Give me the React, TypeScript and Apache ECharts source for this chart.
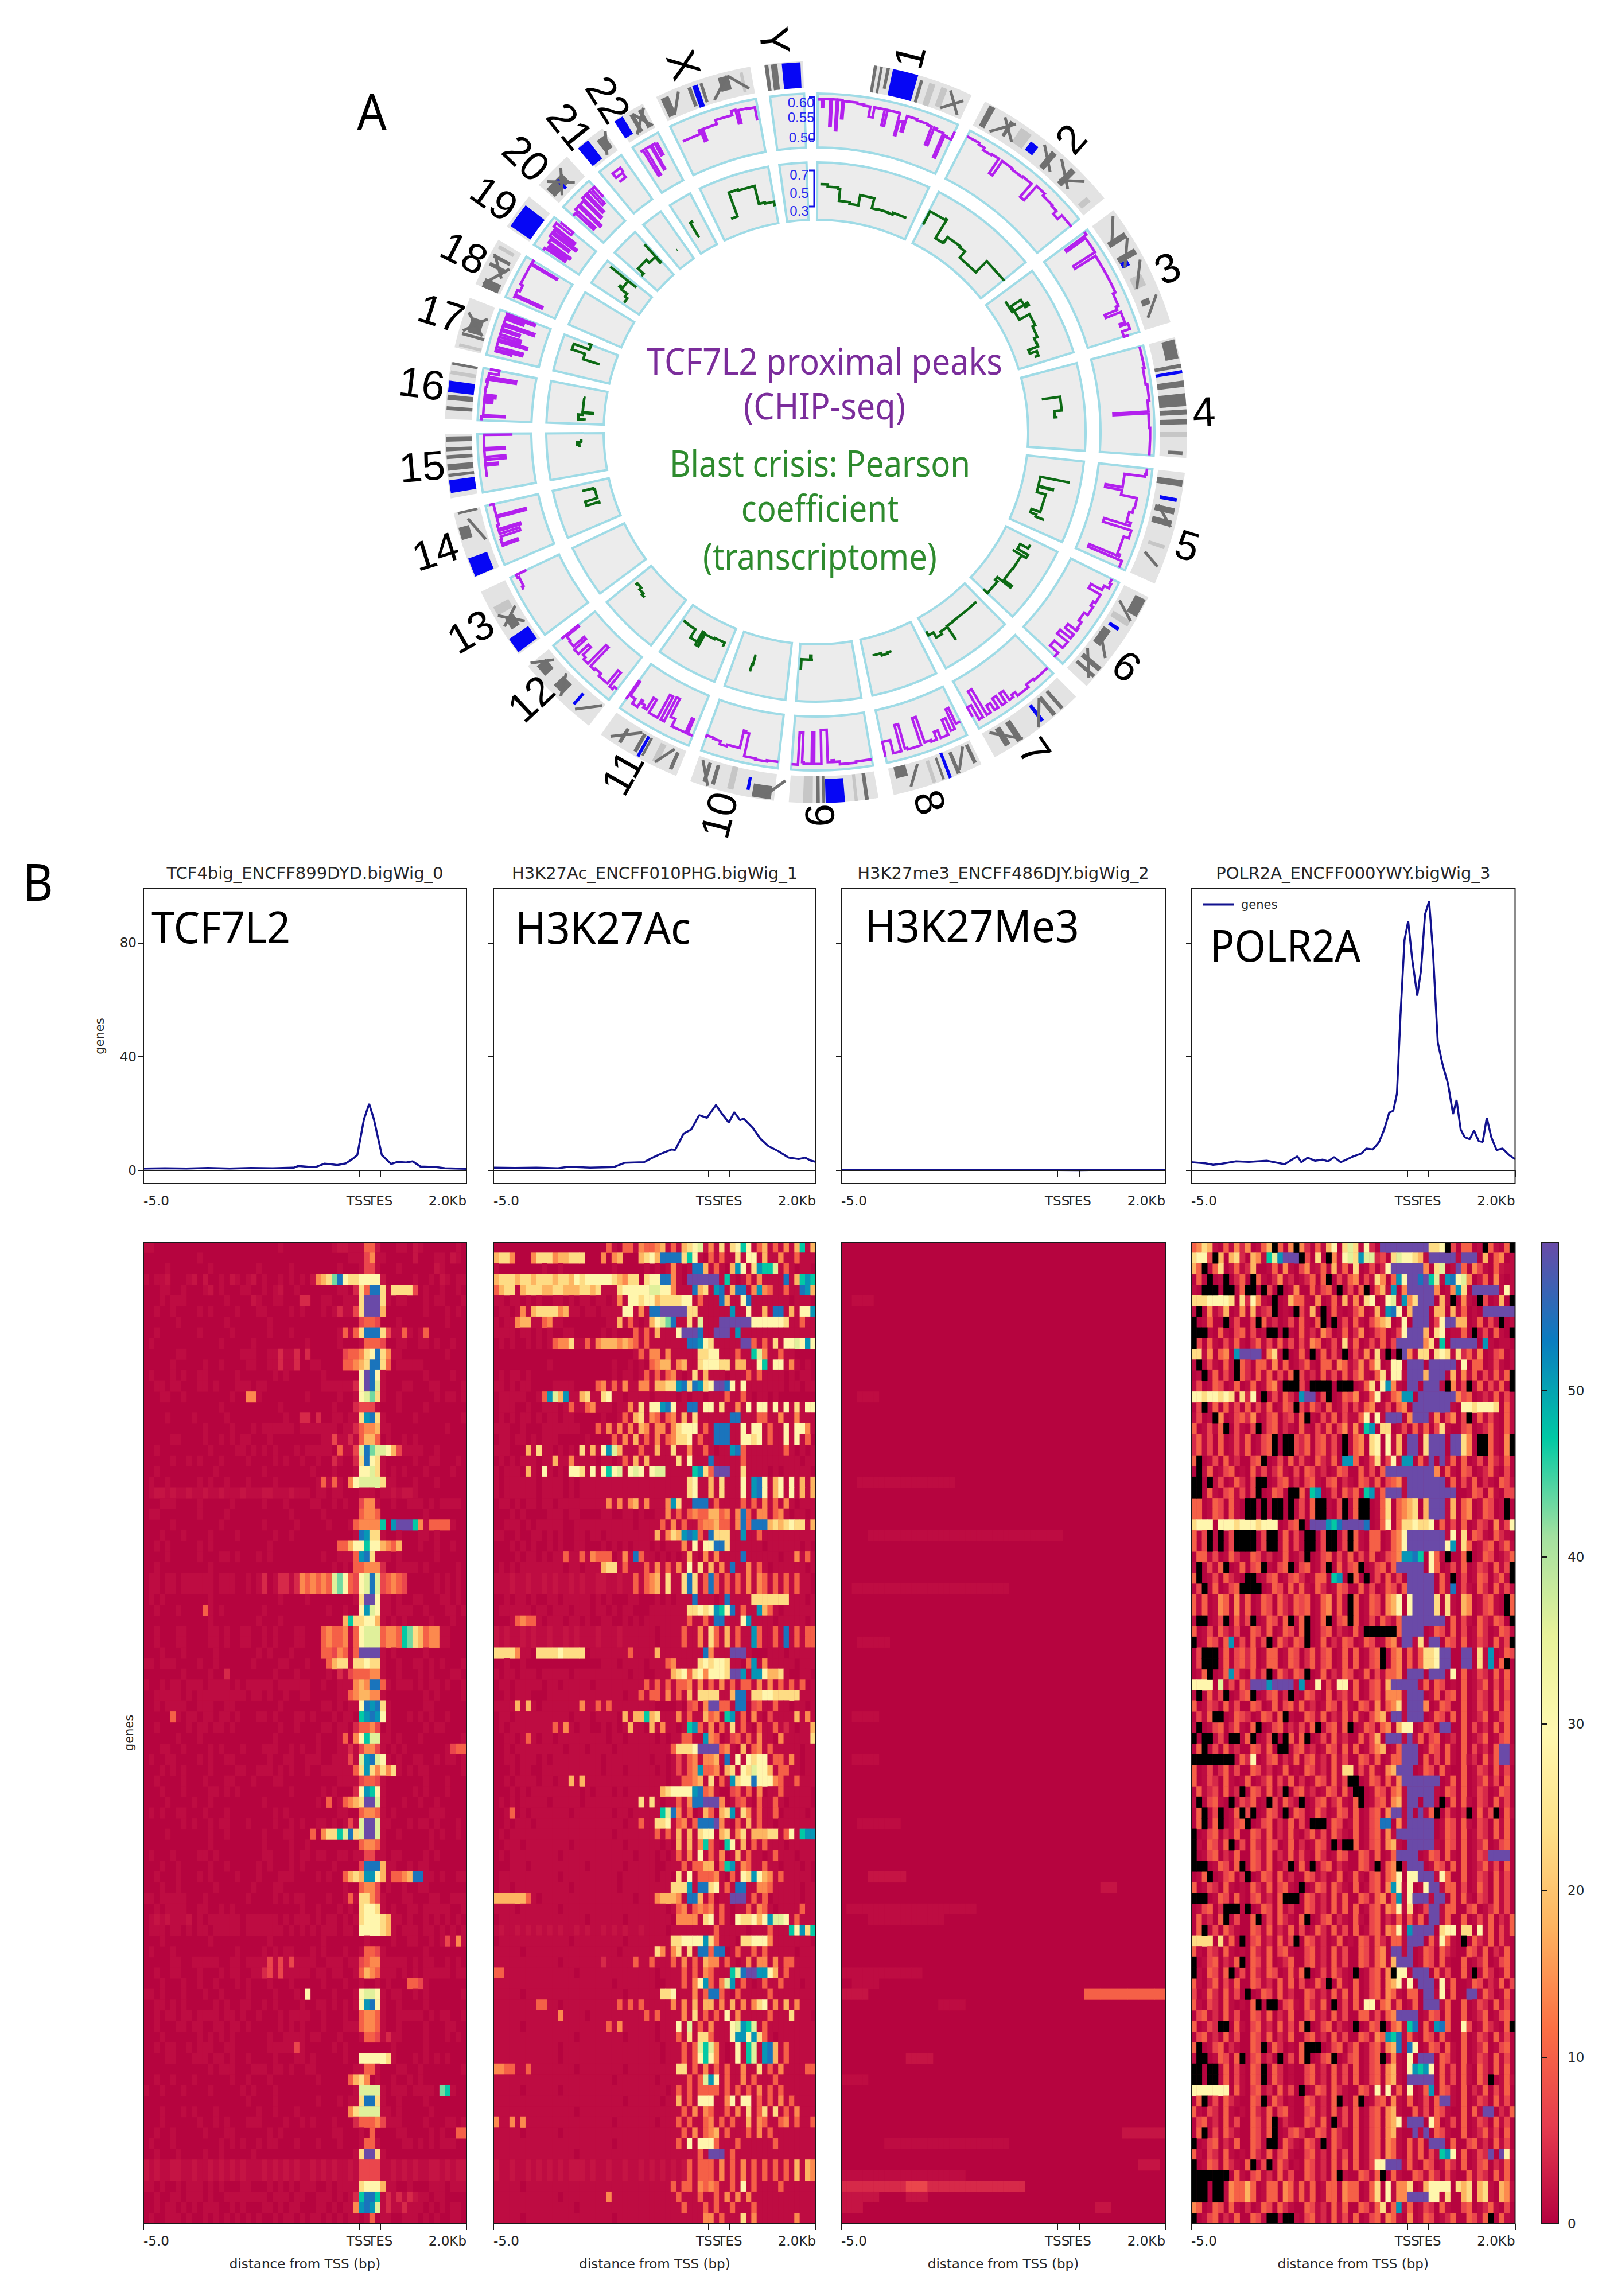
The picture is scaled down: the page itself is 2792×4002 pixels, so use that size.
import React, { useEffect, useRef } from "react";
import * as echarts from "echarts";

// ---------- panel B profile lines (x unit: 10 = TSS, 11 = TES, 15 = +2 kb) ----------
const TCF_X = [0,1,2,3,4,5,6,7,7.2,7.8,8,8.4,8.7,9,9.4,9.7,9.93,10.24,10.48,10.7,11.07,11.5,11.8,12.2,12.5,12.86,13.6,14,15];
const TCF_Y = [0.7,0.8,0.7,0.9,0.7,0.9,0.8,1,1.6,1.2,1.2,2.4,2.2,1.9,2.5,4,5.4,18,23.4,18,5.4,2.3,3,2.8,3.2,1.4,1.2,0.8,0.6];
const ACK_X = [0,1,2,3,3.5,4.5,5.6,6.1,7,7.4,7.8,8.3,8.45,8.85,9.2,9.57,9.93,10.35,10.64,10.95,11.2,11.47,11.64,12.07,12.4,12.78,13.25,13.73,14.2,14.5,14.75,15];
const ACK_Y = [1,0.9,1,0.8,1.3,1,1.2,2.7,2.9,4.5,5.9,7.4,7.2,13,14.4,19.4,18.5,23,19.8,16.8,20.5,17.7,18.2,14.9,11.3,8.6,6.8,4.5,4,4.5,3.5,3];
const ME3_X = [0,2,4,6,8,10,11,12,13,15];
const ME3_Y = [0.3,0.3,0.3,0.25,0.3,0.2,0.15,0.25,0.3,0.25];
const POL_X = [0,0.66,1.02,1.37,2.08,2.67,3.5,4.33,4.92,5.1,5.39,5.74,6.1,6.34,6.62,6.93,7.52,7.87,8.11,8.42,8.7,8.94,9.17,9.36,9.53,9.69,9.88,10.05,10.24,10.47,10.64,10.83,11.02,11.2,11.42,11.65,11.89,12.13,12.29,12.48,12.67,12.9,13.1,13.31,13.5,13.69,13.9,14.14,14.42,14.73,15];
const POL_Y = [2.9,2.5,2,2.3,3.2,3,3.4,2.2,5,2.9,4.5,3.4,3.8,3.2,4.7,2.9,5,5.9,7.7,7.4,10,14.4,20.3,21,27,54,81,87.6,74,61.4,70,90,94.6,76.6,45,37,30.6,19.8,24.8,14.4,11.7,11,14,10.4,10,18.5,11.7,7.2,7.7,5.4,4];

const PANEL_TITLES = ["TCF4big_ENCFF899DYD.bigWig_0","H3K27Ac_ENCFF010PHG.bigWig_1","H3K27me3_ENCFF486DJY.bigWig_2","POLR2A_ENCFF000YWY.bigWig_3"];
const XTICK_VALUES = [0,10,11,15];
const XTICK_LABELS = ["-5.0","TSS","TES","2.0Kb"];
const YTICK_VALUES = [0,40,80];
const CBAR_TICKS = [0,10,20,30,40,50];
const CBAR_MAX = 58.9;
const SPECTRAL = ["#b4003f","#e63c4e","#fb7044","#fdb25f","#fee088","#fff8b0","#e8f29a","#a3e0a0","#00c9a4","#0a7cc0","#6a4aa8"];

// heat levels: one character per cell (x = no data, drawn black); rows are six groups of ten columns
const LEVELS: Record<string, number> = { ".":0.5, ":":1.2, ",":2, "1":4, "2":7, "3":10, "4":14, "5":18, "6":23, "7":29, "8":36, "9":43, g:47, t:51, b:54, p:59 };

const HEAT_TCF = [
"::........ .......... .....:.... .....:,,:: :33,...::. ,:......:.",
".......... :......... .......... ........:: :24::..... ,...::.,:.",
"....:..... ..:....... .:.....:.. ......:... :22:...:.. ....,:....",
":.::,...:, .,..:.,:.: ,.:..:.:.: .,4569b766 7777,..... :..:.,:.::",
"...::..:.. .:,.:...:: ..:.:,..:. ......::.1 63bb6:6666 2.:..:..:.",
"...:.:::.. .....:.... ,:..::...1 1..::..::: 6ppp6:.::. ..:.::...:",
"..:..:.... :.:....:.. .::....:.: ...:.:1::2 6ppp5..... ..:...:.:.",
"......:... .....:.... ...:...... .......... 2332...:.. ......:...",
"..:....... :.....:... ...:...:.. ......:3:3 6bbb62::3: .:3.......",
".:........ ....:..... :......... :.....:... :3332..::. .::.:..:..",
"......::.. ........:: :..::1::1. 1......233 467b64::.. ......:...",
".....:.... .:..:....: :..::1::1. .::....334 56bb63.::: ::........",
".:...:.:.. ::.....:.. ....:.:... ...:...... 7pb7:..... ..:....:..",
"..::.::... ::.:...::: .::....... ...::::::1 7pb8:...:: ...::....:",
"...::..:.. ......:..4 4:........ :.....:..: 7896:..:.. ....:.::.:",
".......... ....:..... .....:.... .....:...1 222:...:.. ..:.......",
"....:....: .....:.... ......:..1 1.1..::.:: 6tb6:..... :........:",
".......... .:....:... :.::::::.: ::::::.::1 3445::.... ......:...",
".....::... .:..:.:.:: ...:...... ...::2::1: 3553.:..:. :.........",
"..:....... ..:....::. :.:.:...:. :::::.3::2 8b988752:: ::..:.....",
".....:..:. :...:....: ....:.:..: ..:..1:..1 6b76:..... :..::...:.",
"..:....... ...:...... ..:....... .:...:...: 7786:.:.:. ..:....:..",
".:..:..... :.:..:...: ....:..... ..:3:3:.47 88886::... :...:.....",
".:,,:,::,: :,::,:::,: ::,,:::,:: :.::.::... :::.::,:,, :.........",
"...:::.... :.....:... ..:...:... .::..:.:.. 244:..:..: ::.:.::::.",
".::....... :....:.... .......:.. ...:...... 3443...... ..:.......",
".....:.... ....:..... ..:.....:. ....:...:3 4444g.tppp g4:3333:..",
"...:...:.. ..:....:.. ....:..:.. .........: bt66:..:.. .::.:.....",
"..:.:..... :.:....... ...:...... ......3357 7g775435.. .:..:..:..",
"....:..... :...::.:.. .:.:...... ...:..:::3 tb6:::.:.. ....:.....",
"..:....... ..:....... .......... .....:.:.3 34441..::: :.:.....:.",
".::.::.::: :::.:::..: .:1.:11:14 3434389732 78b823432. ....:.:.:.",
".::.::.::: :::.:::..: .:1.:11:14 3434389732 78b823432. ....:.:.:.",
".:.:...... ..:....... .....:.... :........: 6pp7::.:.. ::...::.:.",
"..:...:... .3:.:..... ..:....... ....:..:.. 7t87::.::: ..:...::.:",
".......... ..:....... .:...:.... .......5g6 6775:.:.:. ...:...:..",
"..:...::.. ..::.:..:: ..:.:...:: ...34334:3 78883443g9 65344::...",
"..:...::.. ..::.:..:: ..:.:...:: ...34334:3 78883443g9 65344::...",
"...:...:.. ...:...... .:.:...:.. ...33243:3 pppp:.:... ..:.......",
"::.:::.... :..:...... :....::... :...3566:6 6766:..:.. ::.:.:...:",
".......:.. ..:..1.... ....:...:. ....:.1:23 3344:..:.. .:.:...::.",
":..:.::.:: :.::::.:.: ::::.::::: :..:..:::4 54bb3:.::: .:.::.:..:",
"..:::::.:. :::::::::. ::.:..:..: :.....::34 5544:..... ..:.:....:",
"..:.::::.. :::..::... .....:.... ...::.:.:: 7btb6:.... ..::......",
".....3:.:: .::.::.:.. .::.:...:: .:...:.::. gtbt7:...: .:.:..:...",
"..:.....:. ::.::.:... .....:..:. ...::.::.1 3342.:.... ..:.::....",
"......:... :......... ....:..... ..:...:3.4 7g88::.:.. .:.......:",
"...::..:.. ..:.:...:. ..:::..:.: ..:...::1: 2442:.:.:. ......:233",
".:..::.... :.:..::... ...:..::.. :::..:::2: 8tb87:.:.. ::..:.::.:",
"...:.:.:.. ..:....::. .:::.:.:.. :..::::::3 6t64646:.: .::......:",
"..:....:.. .:...::... :...::.... ......:::: 2332:..... ..:...:...",
"...:...:.. ..::.:.:.. .......:.. ...:.:...1 7tg7:.... :.:...:...",
"....:....: ..:....... ..:....... ..:.3.:345 6pp8:...:. .:..:.....",
".:.:..::.. .:...:.... ....:.:... ......::.. 3443:.:... ...:::....",
".......:.: ..:.::...: ....:..:.: ..::.:.:2: 8pp8::...: .::.:...:.",
"....:..... ..:..:.... ..:...::.. .3.466g8b6 8pp8:..:.. ...:.:..:.",
".......... ..:....... ..:....:.. :......... 3443:..... ...:......",
".:...:.... ::.:...... ..::...:.: :.::..::.: :22::.::.. ..:.:.....",
"...:..:... ..:..:.... .:.:...:.: .....:.... 2bbb5::..: .::.......",
"..:...:... :.:....:.. .:...:::.. ..:.:..356 5tt75:3345 bb::.:..::",
"...:..:... ...:...... :...::.... .......:.. 3442.:..:. .::.......",
"::.:::::.. .:.......: ....:.:.:: ....:..:3: 6642:...:: ...::..:::",
"..:.::::.. ::..:.:... .........: ..:...:.:. 6776:.:..: :.:::::..:",
".:,:,:::,. :.::::::.: :::::.:.:: :.:.::.:.: 677765::.: ..:.:.:.:.",
".:::.::.:. ::.:::::.: ::::::.:.: .:.:::.::. 777765:.:: :.::.:.:.:",
"...:...... ..:....... ...:...... ...:...... .:....:..: :..:.:2:4:",
".:...:.... .......:.. ..:.:.::.. .:.:...:.. :332:..... ..:.......",
".....::..: ::::..::.: :::2:2:2:: ::..:::.:: 2344::::: :.::..:.:.",
"..:..::... :...:.::.. ::12:2:::: :.::.::..: 3543:::.:. :.:::::.::",
"...:...:.. :..:...:.: ...:...:.. ...:...:.. :..:.:...3 32:.......",
"::.:...:.. .:..:....: ....:...:. 7....:...: 7887:.::.. :.:......:",
"..::.:.:.. ...:.:..:: ..:.:....: ..::.:.:.: 7tb7:..:.. ..:.......",
"..:.::.::. ::::.::.:. .:...:.::: :..:...:.. 3443:..::: ::.:.::..:",
"..:...::.: :..::.::.: .....:.:.: ...:...::: 3443:..:.. ..:...::..",
"...:...... :.:.:.:... ...:..:::: .::...:... :332:1::.. ..:...:.:.",
"..:.::..:. :::..::... ...:::::2: .....:.:.. ......:... ..:......",
"....::...: ::.::.:..: ....:...:: .:.....:.. 777776:... :.:.:.:...",
".......... ..:.:::... :::.::.:.. ::.......: :33:...::. .:.......:",
"..:..:...: ......:..: ...:...... ..:.....35 64.:..:..: .:........",
":..:...:.. ..:.....:. :...:..... .........: 8888:.::: ::::.9g:..",
".......... .........: ....:..... ..:...:.:: 6bb6:..:.. ..:.......",
"...:...:.: ...:...... .:..:...:. ........46 8888::.:.. ...:......",
"...:...... :..:.:...: ::....:..: .:...:...1 33342:::.. ..:...::.:",
"..:..:.... .:...::... ...:.:.... .....::... :.3....::. ...:.:..33",
".:...:.... ....:.:.:. .:.::...:. ..:...:... :33:....:: .:.:.:::..",
"..:...:... .:..:..... :......... .........: 6pp6:..... ..........",
",:,::,,::, ::,:,:,:,: ::,:,:,:,: :,:,:,::,: 2222::,:,: ,::,,:,:,,",
",:,::,,::, ::,:,:,:,: ::,:,:,:,: :,:,:,::,: 2222::,:,: ,::,,:,:,,",
"::.:..:.:: :.:.:...:: ...:.:.:.: ::..:.:::: 67775::..: ...:::.:::",
"..:..::.:: :.:..::::: :::.:::.:: ..:::.:.:1 gbbg:1:1:1 ,::.::...",
"..:.::.:.: .:::..:.:. ..::.:.::. ..::.:.::4 tbt8:1::1: ::.:.:.::.",
".:..:::.:. .:.:.:.:.: .:..:.::.: .::.:.:.:: .:3.::..:: :.:.:..::.",
"..:.:.:::. :..:.::... :.:..::... ....:..:43 4453:.::.. ..:.:.:...",
];

const HEAT_ACK = [
".......... .......... .3:.33:433 45:3:5678, 4:6:67g7:3 5:3:4:5g:5",
"5664...466 6455666... 4.45...567 5bbbb6g7:. 3:3::6:77: 5::4::3:::",
":........: ..:....... ..:.....:. :.:4:.:bb5 :3:.5t7:6t gg8:3:.::.",
"5666566566 6566576777 7765466.67 7bb4:.pppp pp:g:.:3:4 ::::b:5gtg",
"3566:56665 5665556656 :::6777778 8774:::b56 :tb:5bb:4t 43::3::bt5",
"::.::.:.:. .::.:.::.: :.:4:77677 5666677:3: ::b5::7b:: :::::.:::.",
".::.:4:566 6645::.::. ::::77:4:b bppppp66:: ::::t::7:: 5:bb:5:77t",
":.::455::3 4::....... .::5:3:.:5 789b::6:8: ::pppppp77 77776::3::",
"::::.::.:. :..::..... :.:...3:3: 5:::7pppb: :ppp:t:::: ::::::::::",
".:.:..:.:. :3446::3:4 5554543:3: ::::::bbt7 6:::::pp3: 3:6:7787t7",
".......... .......... ......:3:4 4:4:::::66 77:::3::g8 4::3::....",
".......... :......... ..:..:.:.3 455:45::67 7766:55::7 g:77:4:.:.",
".:.::.:... .......... ..:.::.:3: 3:34:.:6:5 :::.:::3:3 ::::.:.::.",
"::.:.::... .::::....3 4:3:4::44: 5566tb6bt6 7ppb7:7::: ::::.::.::",
".:::::..:3 t85t::56:: 67::.::::. ::::.:.::. :::3::3:.: :.:.......",
".:::..:..: ::.:3::34: ::.::4:6:7 7tb7::bb:7 7:6::4:7:7 7:7:7:6:77",
".:.:.::.:. ::.::..... :..:3:56:4 3:34:5:6:: ::::bb:::3 3::4::4:::",
":::..:...: ::::::...3 :4:4:4:54: 44:46777:3 :bbb::7:77 :3::7:774:",
".::.::.:.: ::.....:.. ..3:4:5:3: 4:34667:3: :bbb::7767 :3::7:7:3.",
":::...5:6: :.:.:.6:5: 7t85:::3:: 5::6::4::3 :.::tb3::: ::::3:.:.:",
".:.:.:::.: :5::4::::. ::.:3:5:5: ::::6:7::: b:::::3::: :::::::.::",
":.:::.5:.7 :.:.776:7: 7g78:787:7 88:::::gt6 3ppp::6::: :.:.:::::.",
":.::::::.: :::.:.:::: :::::::::: ::::::67:: 5:6:::7:tb 7:57:7:5:5",
":.::::::.: :::.:.:::: :::::::::: ::::::67:: 5:6:::7:tb 7:57:7:5:5",
".::.:.::.: :.:::::::: :4:4:45:4: ::4t6::bbb :3::::3:3: 4:3:4:.:::",
"...:.:.... :::.::.... ::..::.:.. ::4:3:3433 5534:4b3:4 4:34:.::.:",
"..:::.:.:: :::..::::: ::::::.::: :3:4:3::34 4533:4b3bb b5656766:5",
"::..:..::. :.:..::.:: .::::::::: 5:465tbt3: b666::t::3 ::::::::::",
"...:.:.:.. :.:..::... :.:.:.:::. :.:::4:7:7 7bb6:::::: .::::::.:.",
"....:.::.: .::3::3:43 33.:4:b3:: .:.:.:5:.4 :4::::b::: :::.::4:3:",
".:.:.::::: :::.::.::: 566:3:::3: 4:3:4:7:6: 5:4:b::4:3 :.::::::.:",
":::,::,::, :,::,:,::, ,::,::3:34 5:6::6b6:3 b3:3:3:4:4 3:3:3:3::.",
":::,::,::, :,::,:,::, ,::,::3:34 5:6::6b6:3 b3:3:3:4:4 3:3:3:3::.",
"..:.::.:.. ::.:::::.: .:...::... :.:.:::b:: :.:b::::66 66666:::.:",
".::::::.:: .:::.:::.: :.:.::...: ::::::6676 7tg7b:3::t 53:.::::::",
"...:3433:. :::.::.:.. ::..:.:.:: ::::::3::3 :bb:::7t:: ::.:::::.:",
",:,::,:,:: ,::,:,:::, :::,:::::: .::::3::4: 63:5:3::t3 ::3:b:3:33",
",:,::,:,:: ,::,:,:::, :::,:::::: .::::3::4: 63:5:3::t3 ::3:b:3:33",
"66664::.66 6676666.:: :::::3:::: 5::::::::b 4:::ppp:.. .:::.:::::",
"..:..:.... .......... :::.::::.: ::34::::67 6776::.3t: 4:::::.:::",
":.::.:::.: ::::.::::: :::::.::.. :::5673674 7776ppt:tt 7556:..::.",
".::.:::::. ::.:::::.: ::::::::3: 3:3:334:4: 3:4:3:33:4 :4:3:3:3.:",
"..:.:::... :::::::::: ::::.::3:3 3:4:3:5:66 66::5bb:66 7766666:::",
"::::5:5:.: ::::::4::3 :3:::::::: ....:.23.4 pp33:bb.23 ::3::.::.:",
".::.:::::: ::::.:::.: :::.5:55g5 6:::4:3::5 34.gt:3.4: .2::::5:4:",
".:.::::::: :3:4:.::.. :.:.:5::.5 :4::.:gt3: 4.3:6:3:.3 ::3:1:.::5",
"..::.:3:.: :.:::::::: :.::.::::: .:.::33::t 43.:23:3:4 ::.4:::::6",
"..:.:::::: :::.:::.:: ::.::::::: :::36667pp pp34:.5.34 :3:::::.::",
"..::.:::.: .::::::::: .::::::::. ::.:2:34:4 45:b:7:767 7:33:4:.::",
"...:.::..: :::::::::: .:::.::::: .:.:2:34t3 34.56:7687 75:33::.::",
"..:.::::.: :.::5:5::: :::::::::: ::.::3345: 6.3:t677b7 7743::3:::",
"...:.:.::: ::::::.:.: ::.:.::::: :567777tb3 4:..23:3.4 .::3:::::.",
".:.:.::::: .:::::.::: :::::::6:6 :.::3:4bbp pp4.:23:.3 ::3:.::::.",
"..:3.:.::: ::::.::::: ::.::.:::: :g8b4:3.:5 3.56t:64:3 ::3.::::.:",
"..:.:::.:: :::::::::: ::::.::3:: 667:34:3bb bp4:.3:5:3 ::.:::::::",
".:.::::::: :::::::::: ::.::::::: 3:3:5:5:67 7.56:46:55 566:37:gtt",
"..:::.:::: ::::.::::: ::::.::::: :.:.5:5:4g 3:.g7:5.3: 3:::.:::::",
".:.::::::: ::.::::::: ::::::.::: .:.:3:4:7: 3:4.:5:3:: .:3:::.:::",
"...:::.::: :::::::.:: ::::.::::: ..:::3:335 5.3gt:43:: 3::.:::.:.",
".::::::::: ::.::::::: :::.:::::: .::.6:7:33 34:.3:76t7 54:3:::::.",
".::.:::::: ::::.::::: :::.:::::: :::666t:bb 67:3:bb::4 43:::::.::",
"5555553:.: :::::::::: ::::::.::: 45554:bb5: 3.::ppp:3: 3.:::::.::",
"::::.::::: ::.::::::: :::::::::: ::.:34:343 4:3:.::3:4 3:.::::3::",
".::::::::: :::::::.:: ::::.::::: :::.4444:6 7:3:.76675 7t887:3:::",
":,::,:,:,: ,:,::,:,:: ,:,:,::,:: ::.::::::: :3:::::.:: :3:::g7t6g",
".::::::::: ::::.::::: ::::.::::: :::667777t 63:::.6677 74:::::::",
":::::.:::: :::::::::: :::.:::::: 64:46:6:bb 3bb.:3::3: 3:::::.:::",
":::::::::: ::.::::::: 1:::::3::3 :::3:4:3:5 44:3:.:4:4 4:4:33::::",
"33:::::::: :::::.:::: :::::::::: .::::3:3:4 3:::g8bppt t75:3:::::",
":::::::::: :::::::::: ::.::::::: ..:::3:47t 3:48t:3:.: 3::3:::.::",
":::::.:::: :::::::::: ::::.::::: :667:::4:3 bb3:.3:::: :3::::::::",
"::::::::33 ::.::::::: :::3:3:3:: :::4:4:5:5 5:4:5:4:46 7:4:5:4:::",
":::::::::: ::4::::.:: ::::::::3: 3::::4:6:3 :3:7:4:::: :3:::6:::",
":::::.:::: :::::::::: :3:4:::::: .:::7:8:3: 4:::78tg8: 3:::::::::",
":::::::::: :::::.:::: ::::.::::: .:::3:6:66 3:::7tt7t6 3:.:::::::",
":::::::::: ::.::::::: :::::::::: :.:::3:38g 84:.:7:g8: tb5:3:::::",
":::::::::: ::.::::::: :::::::::: :.:::3:37g 74:.:7:g8: tb5:3:::::",
"4433::3::: :::::.:::: ::::.::::: ::::66:3:4 :3:3::4::6 :3:4::::33",
":::::::::: :::::::::: ::.::::::: .:::::3:38 t7:3::4:3: ::3:::::::",
":::::.:::: ::.::::::: :::::::::: ::.:3:3:33 33:3:3:3:4 :3:3::::::",
":::::::::: :::::::::: ::::.::::: :.::5:3:77 7::47:77:3 :3:4:3::::",
":::::::::: :::::.:::: :::::::::: :::::3:4:4 3::3:4:6:3 6:6:3:4:::",
"4::4:4:::: :::::::::: ::.::::::: .:::3:3::3 4:3:3::5:4 3::34:3::3",
":::::.:::: ::.::::::: :::::::::: :::::3:4:3 45:3:::3:4 :3::::::::",
":::::::::: :::::::::: ::.::::::: ::::3:7:77 73:::3:::: ::3:::::::",
":::::::::: :::::.:::: :::::::::: ::::::::3: ppp:3::::: ::::::::::",
",::,::,:,: ,:,:,,,:,: :,::,::,:, :,:,:,3:33 3:4:3:4:3: 3:3:3:5:54",
",::,::,:,: ,:,:,,,:,: :,::,::,:, :,:,:,3:33 3:4:3:4:3: 3:3:3:5:54",
":::::.:::: :::::::::: :::::::::: :::3:33:43 43::3:7:3: :::3::::::",
":::::::::: ::.::::::: :4:::::::: ::::3:::3: :3:4:4:4:: ::::::::::",
":::::::::: :::::.:::: :::::::::: :::::3:::3 :3::3:::3: ::::::::::",
":::::.:::: :::::::::: ::.::::::: :::::::::4 4:3:::6:4: ::::::4:::",
":::::::::: ::::.::::: :::::::::: .:::::3::: :3:3:::::: :::3::::::",
];

// [band, first column, last column, level]
const HEAT_ME3_RUNS: [number, number, number, string][] = [
  [5,2,5,":"],[14,3,6,":"],[22,3,20,":"],[27,5,40,":"],[32,2,30,":"],[37,3,8,":"],[44,2,6,":"],[48,2,6,":"],[54,3,10,":"],
  [59,5,11,","],[60,48,50,","],[62,1,24,":"],[63,5,18,":"],[68,0,14,":"],[69,2,6,":"],[70,0,4,","],[70,45,59,"3"],[71,18,22,":"],
  [76,12,16,","],[78,0,4,":"],[83,52,59,","],[84,8,30,":"],[86,55,58,","],[87,0,22,":"],[88,0,12,"1"],[88,12,16,"2"],[88,16,33,"1"],
  [89,0,6,","],[89,12,15,","],[90,0,3,","],[90,47,49,","],
];

const HEAT_POL = [
"3465:.3:41 4.:35x3.4x 41.3:57.68 6:71.ppppp5 pppp667x2. 33.:x3:.3x",
"6772x5.561 .54:g8tppp x2.6.x4:78 6t8812.687 765:ppppp: ppp.5.34.:",
"53x:36.,3: 15..:3.4:. 24:,3.5:3. 6.:2.17ppp ppp4.68.:p 3.42:.3,::",
".3:x.:x.13 .x3:.14:1. :13.3x.2:3 4.2:64.3t7 ppbpg8:tb7 84.,3.4:.:",
":.xxx.xx:3 xx.x2.x.:4 ..3:23.x:2 .3x.35:t.4 ppppp4.:4t 6.ppppp:7:",
"66677776.6 174:.x.:53 3:.4.:3.5: 4.67.:78:t 46ppp.5:x. 4:.x2.:5.x",
":x.4:15.:4 .5:12x.:.x 2:5.x.3:.: 24.:5:tb7. 5ppp.55.5: 3.:.pppppp",
"x.:3..x:2. .2x3:1.:2. 3:.3x.x:2. 3:.2456.:7 .ppp.27pp5 5.:3.2:x.:",
"xxx:.3:.23 .2.:xx.x:. 3:1.42.:3. 14.:23.:27 ppp5.67.:: 3.x:2.3:.x",
"x2.3:.2:3: .13:2.3:2. 2:43.:2.6: 3.:2:3.2pp ppp46.g.pp ppp.t:.::.",
"66:4.34.tp ppp.46:x.: 3.x:3.2:x. 2:4.6:x.xp 4:66.676:6 13:4.:23.:",
":x.2:.3:x3 1.33:4.3.: 13:.33.43: 14:36.:77. ppp.ppppp 7.33.:2:.:",
".:x:3.2:x3 1.3:3.2.3x 2:1.3:2.3: 24:.36.77: ppp5ppp.5 4:3.2:3:3x",
":2.:32.:3. :3.:34:xxx 2.xxxx.xxx .:36.7t4:. pp.ppp:x4 2x:3.2:3.x",
"77677676.6 17.x:2.31. tpp.2x.:32 4.:37.:34t t.ppppppp4 23.:1:3.2:",
".2x:3.3:2. 3.2:3.:32x 2:31.3.:2. 2:34.:2.34 .ppppppp: 7767776.3:",
":2.:x4.:23 14.:23.12. 3x:.2:3.2: :37.7:ppp. 4ppp:4.24 2x.3:2:.3:",
"3.:2:3x.2: .2x:23.1:. 3:.2:3.24: 4:gt.66.:2 .3:3.26:. 23.:13:.3:",
"13:2.3.:2: 3.:23x.xx2 13.23:2.x: 34.67.7:5. pp.6ppp.pp 64.xx3:.4x",
"13:2.3.:2: 3.:23x.xx2 13.23:2.x: 34.67.7:5. pp.6ppp.pp 64.xx3:.4x",
"3x.:2.3:1. .23x.:2.3: 2:.31:3.tt 3.:26.27:t t.3:p.p:3 3.:2.31:3.",
".x:3.:23.: .3:2.13:.2 .32:1.:32. .3:2.3pppp ppppp4.3: 32.:13:.2.",
"xx.x:2.:31 .2xx.:23.1 .23:.23.1: .32:3.234: ppppppp.3 2:3.1:.32:",
"xx.3:.23:2 .2x.:32.xx 3.gt.:2.31 3.gt:3ppp: ppppppppp .:32.3:.22",
"33.:32.3:. xx.x:xx.x: 2.3xx:.2x: 3xx.:36.34 56.5ppp:5 34.:32.:x.",
"33.:32.3:. xx.x:xx.x: 2.3xx:.2x: 3xx.:36.34 56.5ppp:5 34.:32.:x.",
"6777.77767 776777.:23 x.ppptgbpp ppb.:37.36 67667.3:2 3.:21.4:27",
"3.2x:x.2xx xx.2xx:3.2 :xx.2xx:2x 3:.33.:347 ppppppp:7 6.32:.31:.",
"3.2x:x.2xx xx.2xx:3.2 :xx.2xx:2x 3:.33.:347 ppppppp7t 63.:23.13:",
".33:2.:31. .32:1.:3.: 1x.:23.2:3 .2:3.:234t tbg.73:x. 3x.:32.:13",
":x.2:3x.:3 .23x:.23x. 23.:2x.3:2 3x.:23.3pp ppp.73.:2 3.:21.3:2x",
"3x.:2.31:. xx.:23.:23 1.:33.gt.x 3.x:2.3:2. ppppp.3:x 2.:32.13:x",
".2x:3.:23x xxx.:32.3: 3:.31.:32. .3:2.:32.3 ppppp.3:b 2:.31.3:2:",
"3:3.:43.4: 3.:32.31:3 23.:34.3:x 3.:32.457. 7pppp6.6: 54.:23:.x3",
"3:3.:43.4: 3.:32.31:3 23.:34.3:x 3.:32.457. 7pppp6.6: 54.:23:.x3",
":xx.:2x.3: 2x.:32.3x: 3x.:3x.23x 3.:2.31:3p ppppppp.3 2:.31:32.x",
"3.:2.31:2. .32:3.:32. 3x.:23.1:. 3:xxxxxx3p ppp.:32.3 2.:31.:32:",
"x.:32.3t:2 .3:2x.31:3 2x.:3.1:32 .:32.:34.p p:6.pp.32 3.:21.3:2x",
".2xxx:3.23 13.:33.:32 .13:23.:3. 3.:23x.34. 3:3667pp pp.6:t.:32.",
".2xxx:3.23 13.:33.:32 .13:23.:3. 3.:23x.34. 3:3667pp pp.6:t.3x.:",
".:3x.:3t2: .3:2x.31:3 2x.:3.1:32 .:3.2:334. ppp.ppp.7 3.:21.3:3.",
"7777.8:2.3 1ppptpppp: t.:7.2:77. 3.:23.5ppp pp:3.32.: 3.:13.2:3.",
":x.3:2x.:2 3x.:23.1x: .32:.3.12: 3.:23.444: ppp.:3.23 3.:21.3:2.",
"3.:21.3:2. .32.:3.23: 3:1.:32.3: .32:4.346: ppp4.:32. 3.:21.3:3.",
".2:3xx.:32 1.:32.3x:. .32:3.1:3. 3:.245.pp: ppp.:32.3 3.:13.:23.",
":x.:23.13: .3x.:23.1: 2.3x:23.3x .:32.34.57 7.:32.pp. 3.2:1.3:3.",
"x.xx:2.xx: 3x.:2x.x3. 3x.:2.3:1. .3:25.ppp: p:3.23.:1 3.:13.:23.",
".3x:2.3:1. .32:3.xx:2 3:1.:32.3. 3.:245.:3p pp.:32.3: 3.2:1.3pp:",
"xxxxxxxx:3 17.:23.1:3 .23:1.3:2. .32:3.:33p pp.3:2.3: 3:1.3:3pp:",
"3.:2.13:2. .32:1.:3.: .32:1.3:66 .2:3:.45ppp p.:32.3: 3.:21.3:2.",
"3.:21.3:.: 3.:13.2:3. 1.:32.3:2x x.:32.3:4p pppppp.:3 3.:13:2.3.",
".3:12.3:1x .32:3.1x.2 3:1.:32.3: xx.:32.34: ppppp:.32 3.:21.:32.",
":x.23:.x:2 13.:x2.31: x.:23.13:. 3x.:23.45: pp.pp:x.3 3:.21.3:2.",
".3x:2x.:3x 2x.:32.x:3 2.:31.:32. 3.:23.4pp: p.p:3x.2: 1x.3:2x.3:",
".3x:3x.:23 x.:23.1:3. 2.xxx:32.: 3.:23bb.4: ppppp.:32 3:.21.3:3.",
"x.:23.1:3. .32:3.1:3: .13:2.31:. 3.:23.4:pp ppppp.:32 3.:21.3:3.",
"x:.32:3x.2 .31:32.:3. 1.:32.x:xx 3.:23.45:. ppppp:.32 3.:13.:23.",
"x.:23.1:3. .32:3.1:3: 2:.31.:32. .32:3.:3pp pp.:32.3: 3.:21pppp.",
"xxx.:32.3x .32:3.:1x. 3.x:23.1:. .32:x.34x: ppp.:32.3 3.:13:2.3.",
".:3x.:23.1 x.:32.3:1. .32:1.:3.: 3:.23.347. 77ppp:73. 3.:21.3:2.",
"3.:21.3:.: .31:3.23:. x.:32.31:. 3.:23.4t7: 7.:7pp:33 2.:31.3:2.",
"xxx.:32.3: .23:1.3xxx .32:1.3:3. .32:34.3t: 7ppp:pp.3 3:.21.3:2.",
".:23.1xxx: x.:32.3:1. .32:1.3:3. 3.:23.437: 6.:2pp:33 .23.:13:2.",
".3:1.3x:2. .3x:2.31:. 3x.:23.1:. 3:.23.1:3. 3:3.pp:3. 3.:2:3.1:3",
".3x:2.31:. .32:3.1:3. 2.:31.3:2. 3.:23.437: tpppp.677 66.7:3.2:3",
"6666.6:3.x .23:1.3:2x .32:1.:3.: .32:31.33: ppp.3:73: x.31:3.2:.",
"3:.21.3:.: .31:3.23:. .23:1.3:2. .32:34.pp: p.:32.31: .32:3.1:3.",
"x.:23.1:3x .32:3.:13. .23:1.3:2. .32:34.5pp p.:32.3:. 3.:13.:23.",
"x:.32.3x:2 .31:32.:3: 3x.:2.31:. x.:23.4x77 :ppp.3:2. 3.x:31.:3.",
"3:.13.2:3. .32:1.3:3. 2.:31x.3:. 3.:23.457: 7.ppp.7:3 .:32.1:3.2",
"2.:31.3:2. x.:32.3:1. .32:1.3:3. 3.:23.43:. 33.pp:7.3 .pp:31.:3.",
"3:.21.3:.: .3x:xx.23: .31:3.x:2. 3.77.34:3. :3.ppp:3. 3.:21.3:2.",
".23:1.3:2. .32:3.1:3. .23:1.3:2. .33:2.34pp: pp.:32.3 3.:13.:23.",
"3.:21xx.3: .23:1.3:2. 3x.:23.1:. x.:32x.34: gb.3:tb3. 72.:31:.3x",
".23:1.3:2. .32:3.1:3. .23:1.3:2. .32:43tgb: 3:.32.3:. 3.:21.3:2.",
"3x.:23.1:. .32x:31.:. 3xxx.:23.1 3.:23.45b: b7.:32.3: 3.:13.:23.",
":xx.:32.3x .23:1.x:2. 3x.:23x.:2 3.:23x.4:. 7.ppp.32: 3.:21.3:2.",
"xx.xx:3.2: .32x:31.:. .23:1.3:2. 3.:23.45:. 7tgt7.3:2 3:.31.3:3.",
"xx.xx:3.2: .32x:31.:. .23:1.3:2. 3.:23.45:. ppppp.3:2 3:.31x.:3:",
"7777777.3: .23:1.3:2. x.:32.31:. .32:7.7:3. 7.:3t.32: 3.1:3.2:3.",
".3x:2.31:. .32x:31.:. .32:1.3x:. 3x.:23.4:. 3.:2.3pp: 3.:21.3:2.",
"3:.21.3:.: .31:3.23:. .23:1.3:2. 3.:23.45:. .3:2.32:. 3.3:pp.1:3",
".23:1.3:2. .32:3x.1:. .32:3.x:2. 3.:23.457: ppp.73.:2 3.:21.3:2.",
".3x:2.31:. .32:3x.:23 1.:32.31:. 3.:23.45:. .p:p.32:. 3.:13:2.3.",
"x.:23.1:3. .32:xx.31: .32:x.31:. 3.:23.43:. 3:3.ppp.3 .23:1.3:2.",
"3:.21.3:.: .31:3.23:. .23:1.3:2. 3.:23.43:. 3:3.2:gt7 3.:21p.p7:",
"x.:32.31:. 3x.2x:31.: .32:1.3:3. 3.:277ppp: 3:.32.:31 3.:23.1:3.",
"xxxxxxx.3: .23:1.3:2. .32:1.3x:. .32:3x.3:. .32:31.2: .3:21.3:3.",
"xxx.xx:433 53.:33.43: 3:3.:33.43 3.:36.7:44 6.:57777.6 56.56:.54:",
"xxx.xx:433 53.:33.43: 3:3.:33.43 3.:36.7:44 pppp77:6. 56.56:.54:",
"43.:32.3:. 1.:32.31:. .32:1.3:3. .32:36.3t: 3.:21.3:. 23.:13:.2.",
"x.:23.1:3. .32:xx.xx: .23:1.3:2. 3.:23.43:. 4.:32.:13 .32:3x.3:.",
"3:.21.3:.: .31:3.2x:. 3:1.:32.3. .32:34.3:. 7gt7.:32: 3.:21.3:2.",
".3x:.23.:3 .1:32.3:.: 3.:23.1:3. 3.:23.32:. :3.t:x.3: .32:3.1:3.",
];

// ---------- panel A: chromosomes ----------
const CHR_NAMES = ["1","2","3","4","5","6","7","8","9","10","11","12","13","14","15","16","17","18","19","20","21","22","X","Y"];
const CHR_START = [0.3,27.1,53.3,75.2,96.3,116.4,135.5,153.5,170.3,186.5,202.1,217.7,233.2,246.9,259.7,272,283.2,293.5,303.6,311.7,320.2,327.2,334.5,352.2];
const CHR_END = [24.8,51,72.8,94,114.1,133.2,151.2,167.9,184.2,199.8,215.4,230.9,244.5,257.4,269.7,280.9,291.2,301.2,309.4,317.9,324.9,332.2,349.8,358];
const LABEL_ANGLE = [14,41,65,87,107,127,145.6,162.9,179.4,194.2,209.6,226.9,240,252.6,265,277,287.6,297,306,313.4,321.2,328,340.2,354];
const LABEL_RADIUS = [674,677,676,677,677,678,675,675,668,689,683,680,695,695,689,692,685,688,693,695,684,683,680,686];
const PEAK_TRACK = [496,590];
const PEARSON_TRACK = [370,470];
const IDEO_TRACK = [600,647];

const PEAKS: number[][][] = [
 [[0,.89],[.02,.9],[.03,.75],[.04,.9],[.09,.41],[.1,.9],[.135,.33],[.145,.9],[.175,.56],[.185,.88],[.28,.86],[.33,.84],[.375,.65],[.405,.84],[.48,.54],[.5,.84],[.59,.42],[.6,.7],[.63,.52],[.645,.82],[.72,.8],[.8,.78],[.835,.43],[.855,.78],[.875,.75],[.93,.27],[.945,.72],[.96,.7],[1,.86]],
 [[0,.88],[.1,.85],[.15,.8],[.22,.82],[.28,.5],[.31,.82],[.4,.8],[.5,.82],[.58,.5],[.62,.85],[.7,.8],[.8,.78],[.85,.7],[.9,.8],[1,.82]],
 [[0,.93],[.03,.45],[.05,.88],[.1,.88],[.2,.4],[.23,.85],[.4,.85],[.5,.85],[.6,.8],[.72,.75],[.75,.5],[.78,.8],[.88,.7],[.9,.85],[.95,.7],[1,.8]],
 [[0,.93],[.2,.9],[.35,.93],[.5,.9],[.6,.25],[.615,.9],[.75,.92],[.85,.92],[1,.92]],
 [[0,.9],[.06,.88],[.08,.5],[.22,.18],[.25,.5],[.3,.8],[.4,.78],[.45,.72],[.55,.8],[.58,.3],[.62,.85],[.7,.75],[.8,.75],[.88,.8],[.9,.2],[.93,.88],[1,.88]],
 [[0,.85],[.05,.88],[.1,.78],[.15,.55],[.2,.8],[.3,.75],[.35,.8],[.45,.72],[.55,.78],[.62,.8],[.65,.6],[.7,.8],[.75,.55],[.8,.8],[.88,.6],[.95,.8],[1,.78]],
 [[0,.85],[.1,.85],[.2,.82],[.3,.88],[.45,.8],[.5,.85],[.55,.65],[.6,.85],[.65,.65],[.7,.85],[.75,.7],[.8,.85],[.85,.3],[.9,.85],[.95,.55],[1,.75]],
 [[0,.72],[.06,.4],[.1,.8],[.15,.55],[.2,.85],[.3,.7],[.35,.85],[.42,.82],[.5,.32],[.55,.85],[.65,.85],[.72,.82],[.75,.35],[.8,.85],[.87,.85],[.9,.6],[1,.88]],
 [[0,.88],[.2,.9],[.4,.85],[.47,.82],[.5,.85],[.55,.25],[.63,.88],[.72,.3],[.75,.88],[.85,.85],[.87,.3],[.92,.9],[1,.9]],
 [[0,.88],[.15,.9],[.3,.88],[.42,.88],[.45,.45],[.5,.42],[.53,.75],[.6,.75],[.7,.78],[.8,.72],[.9,.7],[1,.75]],
 [[0,.8],[.07,.51],[.1,.8],[.25,.8],[.3,.65],[.37,.28],[.42,.78],[.47,.3],[.52,.78],[.65,.5],[.7,.75],[.75,.7],[.8,.65],[.82,.8],[.9,.7],[.98,.39],[1,.8]],
 [[0,.75],[.05,.8],[.1,.47],[.15,.78],[.3,.72],[.4,.75],[.47,.27],[.52,.75],[.6,.7],[.65,.5],[.7,.75],[.78,.46],[.82,.72],[.9,.7],[.98,.41],[1,.8]],
 [[.75,.88],[.8,.85],[.95,.88],[1,.67]],
 [[.28,.9],[.3,.6],[.33,.9],[.4,.88],[.45,.5],[.5,.88],[.55,.46],[.58,.88],[.65,.85],[.77,.29],[.8,.85],[1,.93]],
 [[.25,.88],[.4,.88],[.45,.65],[.48,.88],[.55,.5],[.6,.88],[.72,.5],[.75,.88],[.95,.88],[.98,.35]],
 [[0,.93],[.08,.5],[.1,.9],[.2,.9],[.3,.9],[.35,.75],[.4,.9],[.45,.7],[.5,.9],[.65,.88],[.75,.9],[.8,.36],[.85,.88],[.92,.7],[1,.88]],
 [[.08,.55],[.12,.85],[.16,.35],[.22,.85],[.34,.3],[.38,.85],[.44,.45],[.5,.85],[.58,.5],[.62,.85],[.7,.25],[.75,.85],[.85,.5],[.88,.85],[.93,.3],[.97,.88]],
 [[.05,.85],[.1,.3],[.14,.85],[.25,.8],[.35,.8],[.4,.85],[.82,.85],[.9,.3],[.93,.85],[1,.82]],
 [[.02,.8],[.1,.35],[.18,.75],[.25,.3],[.3,.8],[.42,.4],[.48,.85],[.58,.3],[.64,.85],[.72,.4],[.78,.9],[.9,.55],[1,.85]],
 [[0,.75],[.1,.3],[.18,.8],[.3,.25],[.36,.8],[.5,.35],[.55,.85],[.66,.4],[.72,.85],[.82,.5],[.9,.85],[1,.6]],
 [[.35,.62],[.65,.72],[.35,.82],[.7,.72]],
 [[.15,.85],[.25,.3],[.35,.85],[.45,.85],[.55,.35],[.6,.85],[.72,.6],[.8,.85]],
 [[.06,.65],[.2,.65],[.28,.72],[.3,.5],[.33,.72],[.5,.8],[.7,.88],[.75,.62],[.78,.86],[.88,.85],[.97,.6]],
 [],
];

const PEARSON: number[][][] = [
 [[.03,.62],[.1,.58],[.2,.55],[.22,.35],[.33,.32],[.38,.32],[.42,.5],[.52,.5],[.56,.32],[.62,.33],[.72,.32],[.78,.35],[.91,.33]],
 [[.01,.37],[.01,.63],[.18,.65],[.19,.27],[.28,.29],[.29,.4],[.45,.38],[.52,.34],[.52,.24],[.75,.29],[.75,.51],[1,.5]],
 [[.11,.31],[.27,.62],[.3,.55],[.2,.35],[.4,.55],[.55,.5],[.69,.44],[.75,.45],[.8,.27],[.85,.4],[.91,.33]],
 [[.33,.3],[.35,.6],[.5,.6],[.52,.47],[.6,.52]],
 [[.26,.79],[.28,.29],[.41,.55],[.42,.29],[.5,.45],[.75,.29],[.8,.29],[.8,.4],[.83,.56]],
 [[.08,.52],[.14,.36],[.22,.57],[.27,.3],[.27,.48],[.5,.47],[.7,.64],[.73,.35],[.78,.4],[1,.3]],
 [[.07,.37],[.25,.37],[.49,.37],[.55,.38],[.67,.67],[.67,.4],[.75,.4],[.8,.45],[.9,.35],[.99,.27]],
 [[.52,.34],[.6,.36],[.7,.32],[.83,.33]],
 [[.75,.27],[.78,.2],[.8,.27],[.95,.27],[.96,.45]],
 [[.63,.34],[.65,.5],[.67,.63]],
 [[.08,.36],[.1,.3],[.3,.32],[.5,.56],[.56,.3],[.52,.5],[.7,.33],[.85,.32],[.95,.29]],
 [[.63,.45],[.7,.42],[.8,.38],[.91,.42]],
 [],
 [[.45,.27],[.5,.5],[.6,.28],[.7,.28],[.82,.3],[.85,.5]],
 [[.66,.43],[.72,.47],[.78,.4],[.82,.37]],
 [[.1,.34],[.12,.45],[.25,.38],[.3,.2],[.32,.38],[.5,.38],[.72,.39]],
 [[.52,.25],[.52,.55],[.69,.79],[.85,.5],[1,.56]],
 [],
 [[.07,.33],[.15,.33],[.3,.38],[.45,.5],[.5,.56],[.55,.5],[.9,.32],[.9,.9]],
 [[.02,.38],[.14,.51],[.6,.44],[.92,.31],[.95,.73]],
 [[.5,.29],[.55,.29]],
 [[.32,.28],[.36,.55],[.45,.58]],
 [[.25,.3],[.36,.74],[.5,.72],[.75,.71],[.75,.4],[.85,.38],[.99,.3]],
 [],
];

// [from angle, to angle, shade, inner radius, outer radius]
const IDEO_MARKS: number[][] = [
 [9,9.5,2,600,647],[10,10.4,2,600,647],[11,11.5,2,610,647],[12,16,3,600,647],[16.5,17,2,600,640],[18,19,1,600,640],[20,21,1,605,640],
 [28,29,2,605,645],[32,32.6,2,610,640],[34,36,1,610,640],[36.5,38,3,612,630],[40,41,2,605,640],[44,45,2,605,640],[49,50,1,605,625],
 [57,58,2,605,640],[60,61,2,605,640],[61,62,3,606,620],[64,66,1,608,630],[68,69,2,610,625],
 [75.5,78.5,2,622,645],[79.4,80,2,600,647],[80.4,80.9,3,600,647],[82,83,2,600,647],[84,86,2,600,647],[86.5,87.3,2,600,647],[88,88.8,2,600,647],[90,90.8,1,600,647],[93,93.6,2,615,640],
 [97.5,98.5,2,600,645],[100.4,101,3,610,640],[102,103,2,605,640],[104,105,2,605,640],[108,108.6,1,610,640],
 [117,120,2,625,645],[121,122,1,605,640],[122.8,123.4,3,610,630],[124,127,2,605,620],[129.5,130.3,2,605,645],[131,131.6,2,605,645],
 [138,138.6,2,605,645],[139.5,140.2,2,605,645],[141.6,142.2,3,605,640],[146,147,2,605,645],[148,149,2,605,640],
 [154,154.6,2,605,640],[157,157.6,2,605,645],[158.5,159,3,600,647],[159.6,160,2,605,645],[161,161.6,1,605,645],[165,167,2,600,620],
 [171.8,172.4,2,600,647],[173.5,174,1,600,647],[175.5,178.5,3,605,647],[178.6,179,2,600,647],[179.4,180,2,600,647],[180.5,182,1,600,647],
 [187,190,2,622,645],[190.5,191,3,612,635],[196,196.6,2,605,640],[197.4,198,2,605,640],[193,194,1,600,640],
 [203,203.6,2,608,640],[205.5,206.5,1,605,640],[208,208.4,2,605,640],[208.5,209,3,605,645],[209.2,209.8,2,605,640],[212,212.6,2,612,640],
 [221.4,221.9,3,610,635],[224,226,2,612,635],[228,230,2,615,635],
 [233.5,236,3,605,645],[237,239,2,615,632],[240,241.5,1,610,640],
 [247,250,3,610,645],[253,255,2,626,645],[257,257.4,2,605,640],
 [260.5,262.5,3,600,645],[263,263.5,2,600,645],[264,265,2,600,645],[265.8,266.4,2,600,645],[267,267.6,2,600,645],[268.5,269.3,2,600,645],
 [273.4,274,2,600,645],[275,275.8,2,600,645],[276.2,278,3,600,645],[280.5,280.9,2,600,645],[279,279.6,1,600,645],
 [285.3,285.8,2,600,640],[286,288.5,2,610,632],[283.5,284,1,600,640],
 [293.5,295,2,605,635],[297,297.6,2,608,640],[298.4,299,2,608,640],[300,300.6,1,610,640],
 [304,308,3,600,642],
 [312,315.5,2,612,632],[314,314.5,3,608,630],
 [320,322,3,605,645],[323,324.5,2,610,635],
 [327,328.5,3,610,645],[329.5,330.2,2,605,640],[331,331.6,2,605,640],
 [335,336.3,2,605,640],[339.5,340.1,2,605,640],[340.3,341.2,3,600,640],[341.5,342,2,605,640],[344.5,346.2,2,615,640],[348,348.5,1,605,640],
 [352,352.6,2,600,645],[353,354,2,600,645],[354.7,357.6,3,600,645],
];
// slanted ideogram strokes: [angle, radius, angle, radius]
const IDEO_SLANTS: number[][] = [
 [21,605,24,632],[24,605,21.5,640],[30,605,33,640],[31,640,34,610],[38.5,640,42,610],[42,640,46,610],[44,610,47,640],[54,640,58,608],[58,640,62,610],[62,640,66,612],[68,640,71,612],[102,610,105,640],[110,610,111.5,640],
 [119,605,121,640],[125,605,128,640],[128.5,605,132,640],[140,605,143,645],[146,645,150,605],[155,605,157,640],[163,605,165,640],[185,610,188,640],[199,605,197,645],
 [204,605,206,640],[210,605,214,640],[218,605,221,640],[226,605,224,640],[229,605,231,640],[237,605,240,640],[240,605,238,640],[252,605,256,625],
 [286,605,289,640],[289,605,286,640],[294,635,298,605],[296,610,299,640],[313,605,316,640],[316,605,313,640],[323,605,325,640],[329,605,332,640],[332,605,330,640],[336,605,338,640],[343,605,346,640],[346,640,349,610],
];

const PEAK_SCALE_TEXT = [["0.60",1396,178],["0.55",1396,204],["0.50",1398,239]];
const PEARSON_SCALE_TEXT = [["0.7",1393,304],["0.5",1393,336],["0.3",1393,367]];

const AXIS_COLOR = "#1a1a1a";
const TICK_FONT = "DejaVu Sans";

function decodeRows(rows: string[]) {
  const cells: number[][] = [], missing: number[][] = [];
  rows.forEach((row, r) => {
    row.trim().split(/\s+/).slice(0, 6).forEach((group, g) => {
      group.slice(0, 10).split("").forEach((c, k) => {
        const col = g * 10 + k;
        if (c === "x") missing.push([col, r, 1]);
        else if (c !== "." && LEVELS[c] !== undefined) cells.push([col, r, LEVELS[c]]);
      });
    });
  });
  return { cells, missing };
}

function buildOption() {
  const PANEL_X = [[250, 563], [860, 562], [1466, 565], [2076, 564.5]];
  const LINE_TOP = 1549, LINE_H = 514, HEAT_TOP = 2165, HEAT_H = 1711;
  const lines = [[TCF_X, TCF_Y], [ACK_X, ACK_Y], [ME3_X, ME3_Y], [POL_X, POL_Y]];
  const COLS = Array.from({ length: 60 }, (_, i) => String(i));
  const ROWS = Array.from({ length: 92 }, (_, i) => String(i));

  const grid: any[] = [], xAxis: any[] = [], yAxis: any[] = [], series: any[] = [], elements: any[] = [];
  const heatIdx: number[] = [];

  const valueX = (gi: number, withName: boolean) => ({
    type: "value", gridIndex: gi, min: 0, max: 15, z: 20, position: "bottom",
    splitLine: { show: false },
    axisLine: { show: true, lineStyle: { color: AXIS_COLOR, width: 2 } },
    axisTick: { show: true, customValues: XTICK_VALUES, length: 11, lineStyle: { color: AXIS_COLOR, width: 2 } },
    axisLabel: {
      customValues: XTICK_VALUES, margin: 18, fontSize: 23, fontFamily: TICK_FONT, color: "#262626",
      alignMinLabel: "left", alignMaxLabel: "right",
      formatter: (v: number) => XTICK_LABELS[XTICK_VALUES.indexOf(v)] ?? "",
    },
    ...(withName ? { name: "distance from TSS (bp)", nameLocation: "middle", nameGap: 58, nameTextStyle: { fontSize: 23, fontFamily: TICK_FONT, color: "#262626" } } : {}),
  });

  PANEL_X.forEach(([left, width], i) => {
    grid.push({ left, top: LINE_TOP, width, height: LINE_H });
    xAxis.push(valueX(i, false));
    yAxis.push({
      type: "value", gridIndex: i, min: -4.6, max: 99,
      splitLine: { show: false },
      axisLine: { show: true, lineStyle: { color: AXIS_COLOR, width: 2 } },
      axisTick: { show: true, customValues: YTICK_VALUES, length: 9, lineStyle: { color: AXIS_COLOR, width: 2 } },
      axisLabel: i === 0 ? { customValues: YTICK_VALUES, fontSize: 23, fontFamily: TICK_FONT, color: "#262626", margin: 12 } : { show: false },
      ...(i === 0 ? { name: "genes", nameLocation: "middle", nameGap: 66, nameRotate: 90, nameTextStyle: { fontSize: 21, fontFamily: TICK_FONT, color: "#262626" } } : {}),
    });
    series.push({
      type: "line", name: "genes", xAxisIndex: i, yAxisIndex: i, symbol: "none", silent: true,
      data: lines[i][0].map((x, k) => [x, lines[i][1][k]]),
      lineStyle: { color: "#12128f", width: 3.5 }, itemStyle: { color: "#12128f" },
    });
    elements.push({ type: "rect", z: 60, silent: true, shape: { x: left, y: LINE_TOP, width, height: LINE_H }, style: { fill: "none", stroke: AXIS_COLOR, lineWidth: 2 } });
    elements.push({ type: "text", z: 60, silent: true, x: left + width / 2, y: 1522, style: { text: PANEL_TITLES[i], fontSize: 29, fontFamily: TICK_FONT, fill: "#262626", align: "center", verticalAlign: "middle" } });
  });

  const me3: number[][] = [];
  HEAT_ME3_RUNS.forEach(([band, a, b, lvl]) => { for (let c = a; c <= b; c++) me3.push([c, band, LEVELS[lvl]]); });
  const pol = decodeRows(HEAT_POL);
  const heats = [decodeRows(HEAT_TCF).cells, decodeRows(HEAT_ACK).cells, me3, pol.cells];
  let missingAxes = [0, 0];

  PANEL_X.forEach(([left, width], i) => {
    const gi = grid.length;
    grid.push({ left, top: HEAT_TOP, width, height: HEAT_H, show: true, backgroundColor: "#b6043f", borderWidth: 0 });
    const catX = xAxis.length;
    xAxis.push({ type: "category", gridIndex: gi, data: COLS, show: false, position: "top" });
    xAxis.push(valueX(gi, true));
    const catY = yAxis.length;
    yAxis.push({
      type: "category", gridIndex: gi, data: ROWS, inverse: true,
      axisLine: { show: false }, axisTick: { show: false }, axisLabel: { show: false }, splitLine: { show: false },
      ...(i === 0 ? { name: "genes", nameLocation: "middle", nameGap: 15, nameRotate: 90, nameTextStyle: { fontSize: 21, fontFamily: TICK_FONT, color: "#262626" } } : {}),
    });
    heatIdx.push(series.length);
    series.push({ type: "heatmap", xAxisIndex: catX, yAxisIndex: catY, data: heats[i], silent: true, progressive: 0, emphasis: { disabled: true } });
    if (i === 3) missingAxes = [catX, catY];
    elements.push({ type: "rect", z: 60, silent: true, shape: { x: left, y: HEAT_TOP, width, height: HEAT_H }, style: { fill: "none", stroke: AXIS_COLOR, lineWidth: 2 } });
  });
  const missingIdx = series.length;
  series.push({ type: "heatmap", xAxisIndex: missingAxes[0], yAxisIndex: missingAxes[1], data: pol.missing, silent: true, progressive: 0, emphasis: { disabled: true } });

  // colour bar axis
  const cbGrid = grid.length;
  grid.push({ left: 2686, top: HEAT_TOP, width: 30, height: HEAT_H });
  xAxis.push({ type: "value", gridIndex: cbGrid, min: 0, max: 1, show: false });
  yAxis.push({
    type: "value", gridIndex: cbGrid, position: "right", min: 0, max: CBAR_MAX, z: 20,
    splitLine: { show: false }, axisLine: { show: false },
    axisTick: { show: true, customValues: CBAR_TICKS, length: 10, lineStyle: { color: AXIS_COLOR, width: 2 } },
    axisLabel: { customValues: CBAR_TICKS, fontSize: 23, fontFamily: TICK_FONT, color: "#262626", margin: 16 },
  });
  elements.push({ type: "rect", z: 60, silent: true, shape: { x: 2686, y: HEAT_TOP, width: 30, height: HEAT_H }, style: { fill: "none", stroke: AXIS_COLOR, lineWidth: 2 } });

  // ---------- circos on a polar system ----------
  const sectorItem = (params: any, api: any) => {
    const c = params.coordSys;
    const dist = (r: number) => Math.hypot(api.coord([r, 0])[0] - c.cx, api.coord([r, 0])[1] - c.cy);
    const a0 = ((api.value(2) - 90) * Math.PI) / 180, a1 = ((api.value(3) - 90) * Math.PI) / 180;
    const palette: any = {
      0: { fill: "#e3e3e3", stroke: "none", lineWidth: 0 },
      1: { fill: "#c6c6c6", stroke: "none", lineWidth: 0 },
      2: { fill: "#707070", stroke: "none", lineWidth: 0 },
      3: { fill: "#0606f5", stroke: "none", lineWidth: 0 },
      4: { fill: "#ececec", stroke: "#9fdbe6", lineWidth: 4 },
    };
    return { type: "sector", shape: { cx: c.cx, cy: c.cy, r0: dist(api.value(0)), r: dist(api.value(1)), startAngle: a0, endAngle: a1, clockwise: true }, style: palette[api.value(4)] };
  };
  const sectors: number[][] = [];
  CHR_START.forEach((a, i) => {
    sectors.push([PEAK_TRACK[0], PEAK_TRACK[1], a, CHR_END[i], 4]);
    sectors.push([PEARSON_TRACK[0], PEARSON_TRACK[1], a, CHR_END[i], 4]);
    sectors.push([IDEO_TRACK[0], IDEO_TRACK[1], i === 0 ? 9 : a, CHR_END[i], 0]);
  });
  IDEO_MARKS.forEach((m) => sectors.push([m[3], m[4], m[0], m[1], m[2]]));
  series.push({
    type: "custom", coordinateSystem: "polar", polarIndex: 0, silent: true, clip: false,
    renderItem: sectorItem, data: sectors, encode: { radius: 0, angle: 2 }, z: 1,
  });
  series.push({
    type: "custom", coordinateSystem: "polar", polarIndex: 0, silent: true, clip: false, z: 2,
    renderItem: (_: any, api: any) => {
      const p = api.coord([api.value(1), api.value(0)]), q = api.coord([api.value(3), api.value(2)]);
      return { type: "line", shape: { x1: p[0], y1: p[1], x2: q[0], y2: q[1] }, style: { stroke: "#6f6f6f", lineWidth: 5, fill: "none" } };
    },
    data: IDEO_SLANTS, encode: { radius: 1, angle: 0 },
  });
  const trackLine = (pts: number[][], chr: number, track: number[], color: string) => {
    // steps: hold the level along the arc, then jump radially
    const stepped: number[][] = [];
    pts.forEach(([f, h], k) => {
      if (k > 0) stepped.push([f, pts[k - 1][1]]);
      stepped.push([f, h]);
    });
    return {
      type: "line", coordinateSystem: "polar", polarIndex: 0, symbol: "none", silent: true, z: 3, clip: false,
      data: stepped.map(([f, h]) => [track[0] + h * (track[1] - track[0]), CHR_START[chr] + f * (CHR_END[chr] - CHR_START[chr])]),
      lineStyle: { color, width: 4.5, join: "miter" },
    };
  };
  PEAKS.forEach((p, i) => { if (p.length) series.push(trackLine(p, i, PEAK_TRACK, "#b320ee")); });
  PEARSON.forEach((p, i) => { if (p.length) series.push(trackLine(p, i, PEARSON_TRACK, "#0c6a14")); });

  // chromosome names
  CHR_NAMES.forEach((name, i) => {
    const mid = LABEL_ANGLE[i];
    const r = LABEL_RADIUS[i];
    const rad = ((mid - 90) * Math.PI) / 180;
    const rot = mid > 180 ? 270 - mid : 90 - mid;
    elements.push({
      type: "text", z: 60, silent: true, x: 1422 + r * Math.cos(rad), y: 753 + r * Math.sin(rad), rotation: (rot * Math.PI) / 180,
      style: { text: name, fontSize: 72, fontFamily: "Liberation Sans", fill: "#000", align: "center", verticalAlign: "middle" },
    });
  });
  const bigText = (text: string, x: number, y: number, size: number, fill: string, sx = 1) => ({
    type: "text", z: 60, silent: true, x, y, scaleX: sx,
    style: { text, fontSize: size, fontFamily: "Noto Sans", fill, align: "center", verticalAlign: "middle" },
  });
  elements.push(bigText("A", 648, 192, 88, "#000", 0.92));
  elements.push(bigText("B", 66, 1535, 90, "#000", 0.92));
  elements.push(bigText("TCF7L2 proximal peaks", 1437, 628, 64, "#7b2d9b", 0.9));
  elements.push(bigText("(CHIP-seq)", 1437, 706, 64, "#7b2d9b", 0.9));
  elements.push(bigText("Blast crisis: Pearson", 1429, 807, 64, "#2e8b2e", 0.88));
  elements.push(bigText("coefficient", 1429, 885, 64, "#2e8b2e", 0.88));
  elements.push(bigText("(transcriptome)", 1429, 969, 64, "#2e8b2e", 0.88));
  elements.push(bigText("TCF7L2", 385, 1615, 76, "#000", 0.95));
  elements.push(bigText("H3K27Ac", 1051, 1615, 76, "#000", 0.96));
  elements.push(bigText("H3K27Me3", 1694, 1612, 76, "#000", 0.96));
  elements.push(bigText("POLR2A", 2240, 1646, 76, "#000", 0.92));
  [...PEAK_SCALE_TEXT, ...PEARSON_SCALE_TEXT].forEach(([t, x, y]: any) => {
    elements.push({ type: "text", z: 60, silent: true, x, y, style: { text: t, fontSize: 24, fontFamily: "Liberation Sans", fill: "#2828f0", align: "center", verticalAlign: "middle" } });
  });
  elements.push({ type: "polyline", z: 60, silent: true, shape: { points: [[1410, 169], [1419, 169], [1419, 243], [1410, 243]] }, style: { fill: "none", stroke: "#1010e8", lineWidth: 3 } });
  elements.push({ type: "polyline", z: 60, silent: true, shape: { points: [[1410, 297], [1419, 297], [1419, 360], [1410, 360]] }, style: { fill: "none", stroke: "#1010e8", lineWidth: 3 } });

  return {
    animation: false,
    backgroundColor: "#ffffff",
    grid, xAxis, yAxis, series,
    polar: { center: [1422, 753], radius: [0, 650] },
    radiusAxis: { polarIndex: 0, min: 0, max: 650, show: false },
    angleAxis: { polarIndex: 0, min: 0, max: 360, startAngle: 90, clockwise: true, show: false },
    legend: {
      data: ["genes"], left: 2097, top: 1566, padding: 0, icon: "rect", itemWidth: 53, itemHeight: 4, itemGap: 0,
      textStyle: { fontSize: 21, fontFamily: TICK_FONT, color: "#262626", padding: [0, 0, 0, 8] }, selectedMode: false,
    },
    visualMap: [
      {
        type: "continuous", seriesIndex: heatIdx, dimension: 2, min: 0, max: CBAR_MAX, calculable: false, show: true,
        left: 2686, top: HEAT_TOP, itemWidth: 30, itemHeight: HEAT_H, padding: 0, hoverLink: false,
        inRange: { color: SPECTRAL },
      },
      { type: "continuous", seriesIndex: [missingIdx], dimension: 2, min: 0, max: 1, show: false, inRange: { color: ["#000000", "#000000"] } },
    ],
    graphic: { elements },
  };
}

export default function App() {
  const ref = useRef<HTMLDivElement>(null);
  useEffect(() => {
    const chart = echarts.init(ref.current as HTMLDivElement, undefined, { renderer: "svg" });
    chart.setOption(buildOption() as any);
    return () => chart.dispose();
  }, []);
  return <div ref={ref} style={{ position: "absolute", left: 0, top: 0, width: 2792, height: 4002, background: "#fff" }} />;
}
